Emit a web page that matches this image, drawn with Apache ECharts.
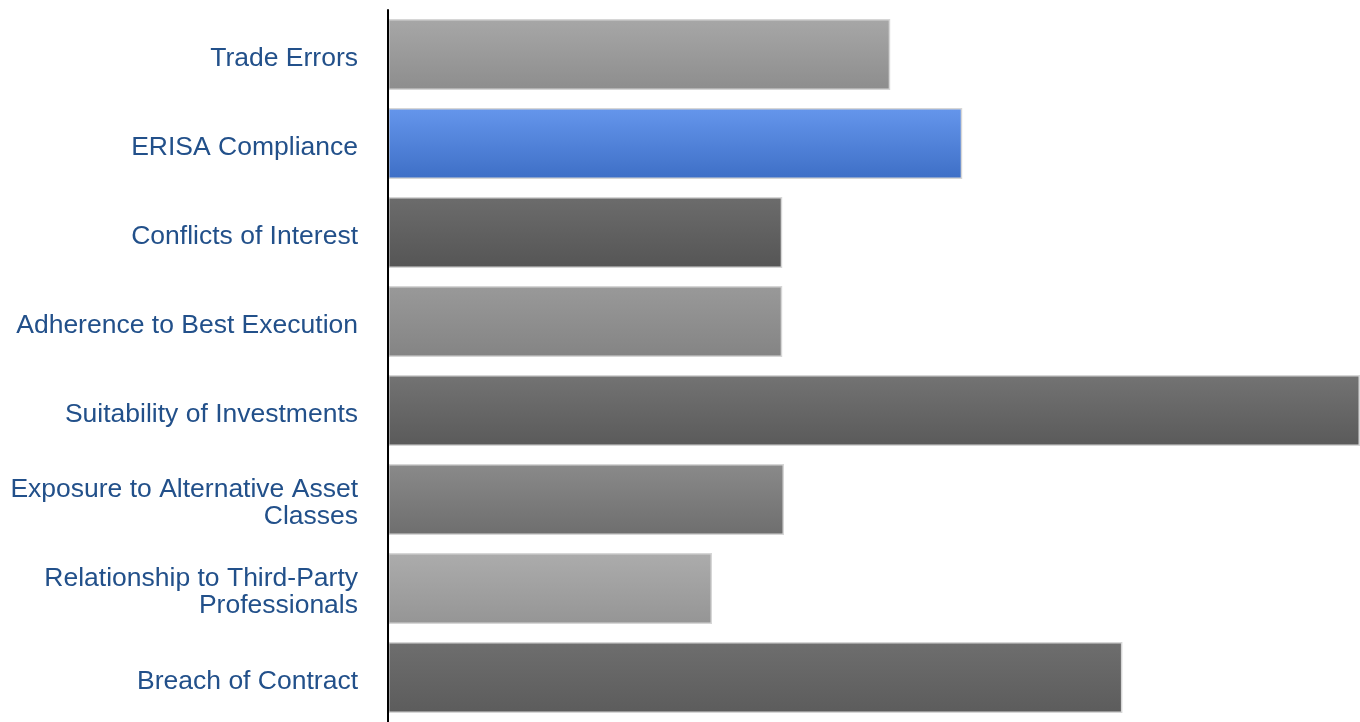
<!DOCTYPE html>
<html>
<head>
<meta charset="utf-8">
<script src="https://cdn.jsdelivr.net/npm/echarts@6/dist/echarts.min.js"></script>
<style>
html,body{margin:0;padding:0;background:#fff;}
#chart{width:1360px;height:722px;}
</style>
</head>
<body>
<div id="chart"></div>
<script>
const categories = [
  "Trade Errors",
  "ERISA Compliance",
  "Conflicts of Interest",
  "Adherence to Best Execution",
  "Suitability of Investments",
  "Exposure to Alternative Asset\nClasses",
  "Relationship to Third-Party\nProfessionals",
  "Breach of Contract"
];
const values = [27.9, 31.9, 21.9, 21.9, 54, 22, 18, 40.8];
const axisMax = 54;

const barTopColors =    ["#a7a7a7", "#6596ec", "#6c6c6c", "#999999", "#737373", "#8a8a8a", "#acacac", "#6e6e6e"];
const barBottomColors = ["#8d8d8d", "#3e6fc6", "#555555", "#848484", "#5a5a5a", "#6e6e6e", "#959595", "#5c5c5c"];

const chart = echarts.init(document.getElementById('chart'), null, {renderer: 'canvas'});
const seriesData = values.map((v, i) => ({
  value: v,
  itemStyle: {
    color: new echarts.graphic.LinearGradient(0, 0, 0, 1, [
      {offset: 0, color: barTopColors[i]},
      {offset: 1, color: barBottomColors[i]}
    ]),
    borderColor: '#d6d6d6',
    borderWidth: 1.5
  }
}));

chart.setOption({
  animation: false,
  backgroundColor: '#ffffff',
  grid: {left: 388, right: 0, top: 10, bottom: 0, containLabel: false},
  xAxis: {
    type: 'value',
    min: 0,
    max: axisMax,
    show: false,
    splitLine: {show: false}
  },
  yAxis: {
    type: 'category',
    data: categories,
    inverse: true,
    axisTick: {show: false},
    axisLine: {show: true, lineStyle: {color: '#000000', width: 2}},
    axisLabel: {show: false},
    splitLine: {show: false},
    z: 5
  },
  series: [{
    type: 'bar',
    data: seriesData,
    barWidth: 71,
    clip: false,
    label: {
      show: true,
      position: 'left',
      distance: 30,
      offset: [0, 4],
      formatter: '{b}',
      color: '#22508a',
      fontFamily: 'Liberation Sans, Arial, sans-serif',
      fontSize: 26.5,
      lineHeight: 27,
      align: 'right',
      verticalAlign: 'middle'
    }
  }]
});
</script>
</body>
</html>
